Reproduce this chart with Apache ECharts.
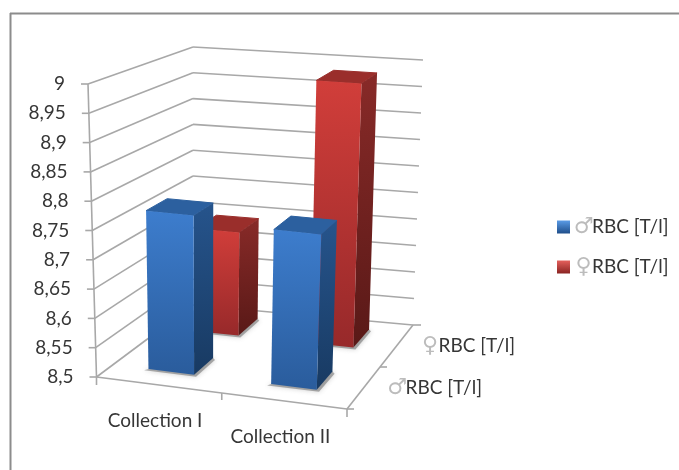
<!DOCTYPE html>
<html>
<head>
<meta charset="utf-8">
<style>html,body{margin:0;padding:0;background:#fff}#c{width:679px;height:470px}</style>
<script src="https://cdn.jsdelivr.net/npm/echarts@6/dist/echarts.min.js"></script>
</head>
<body>
<div id="c"></div>
<script>
// RBC by collection and sex, drawn as a 3D column chart
const categories = ['Collection I', 'Collection II'];
const seriesNames = ['♂RBC [T/l]', '♀RBC [T/l]'];
const maleValues = [8.775, 8.765];
const femaleValues = [8.69, 8.98];
const yTicks = [8.5, 8.55, 8.6, 8.65, 8.7, 8.75, 8.8, 8.85, 8.9, 8.95, 9];
const yTickLabels = ['8,5', '8,55', '8,6', '8,65', '8,7', '8,75', '8,8', '8,85', '8,9', '8,95', '9'];

// Corners of the plot box on screen: [u (width), v (depth), w (height)]
const box = {
  '000': [96.5, 377], '100': [347, 409], '110': [413, 325], '010': [193, 305],
  '001': [88, 84], '101': [359, 109], '111': [423, 60], '011': [193, 47]
};
function project(u, v, w) {
  const out = [0, 0];
  for (const k in box) {
    const f = (k[0] === '1' ? u : 1 - u) * (k[1] === '1' ? v : 1 - v) * (k[2] === '1' ? w : 1 - w);
    out[0] += f * box[k][0];
    out[1] += f * box[k][1];
  }
  return out;
}

const FONT = 'Lato, "Open Sans", sans-serif';
const TEXT = '#363636';
const LINE = '#a8a8a8';
const grad = (a, b) => new echarts.graphic.LinearGradient(0, 0, 0, 1, [
  { offset: 0, color: a }, { offset: 1, color: b }
]);
const palette = [
  { front: ['#3d7dcd', '#2a5c9c'], side: ['#26548c', '#183a62'], top: '#2c609f', legend: ['#5a9be6', '#1f4e8a'] },
  { front: ['#d13e3a', '#97292a'], side: ['#882a28', '#591917'], top: '#9a2e2b', legend: ['#e4605c', '#8a2422'] }
];
const depthShift = [0.03, 0.045];

function line(a, b, width, color) {
  return {
    type: 'line',
    shape: { x1: a[0], y1: a[1], x2: b[0], y2: b[1] },
    style: { stroke: color || LINE, lineWidth: width || 1.6 }
  };
}
function poly(points, fill, extra) {
  return { type: 'polygon', shape: { points }, style: Object.assign({ fill }, extra || {}) };
}
function label(text, x, y, align) {
  return {
    type: 'text',
    style: {
      text, x, y, align: align || 'left', verticalAlign: 'middle',
      fontFamily: FONT, fontSize: 19, fill: TEXT,
      rich: {
        s: { fontFamily: '"DejaVu Sans"', fontSize: 22, fill: '#bcbcbc', width: 17, align: 'center' },
        t: { fontFamily: FONT, fontSize: 19, fill: TEXT }
      }
    }
  };
}
const richName = (n) => '{s|' + n[0] + '}{t|' + n.slice(1) + '}';

// Walls, floor, ticks and axis text
function renderFrame(params, api) {
  const cs = params.coordSys;
  const val = api.value(1);
  const w = (cs.y + cs.height - api.coord([0, val])[1]) / cs.height;
  const children = [];
  const a = project(0, 0, w), b = project(0, 1, w), c = project(1, 1, w);
  children.push(line(a, b), line(b, c));
  children.push(line(a, [a[0] - 7, a[1]]));
  children.push(label(yTickLabels[params.dataIndex], a[0] - 23, a[1], 'right'));
  if (params.dataIndex === 0) {
    const p0 = project(0, 0, 0), p1 = project(1, 0, 0), p2 = project(1, 1, 0), top = project(0, 0, 1);
    children.push(line(p0, top), line(p0, p1), line(p1, p2));
    children.push(line(p0, [p0[0], p0[1] + 8]));
    children.push(line(p1, [p1[0], p1[1] + 8]), line(p1, [p1[0] + 7, p1[1]]));
    const pm = project(0.5, 0, 0);
    children.push(line(pm, [pm[0], pm[1] + 7]));
    const dm = project(1, 0.5, 0);
    children.push(line(dm, [dm[0] + 7, dm[1]]));
    children.push(line(p2, [p2[0] + 8, p2[1]]));
    categories.forEach(function (name, i) {
      const p = project((i + 0.5) / categories.length, 0, 0);
      children.push(label(name, p[0] - 4, p[1] + 36, 'center'));
    });
    seriesNames.forEach(function (name, i) {
      const p = project(1, (i + 0.5) / seriesNames.length, 0);
      children.push(label(richName(name), p[0] + 25, p[1], 'left'));
    });
  }
  return { type: 'group', children };
}

// One column: shadow on the floor, then front, side and top faces
function renderBar(depthIndex) {
  return function (params, api) {
    const cs = params.coordSys;
    const pt = api.coord([api.value(0), api.value(1)]);
    const band = api.size([1, 0])[0] / cs.width;
    const uc = (pt[0] - cs.x) / cs.width - 0.012;
    const w = (cs.y + cs.height - pt[1]) / cs.height;
    const hw = band * 0.186, vc = (depthIndex + 0.5) / seriesNames.length + depthShift[depthIndex], hd = 0.11;
    const u0 = uc - hw, u1 = uc + hw, v0 = vc - hd, v1 = vc + hd;
    const col = palette[depthIndex];
    const shadow = poly([
      project(u0 - 0.01, v0 - 0.02, 0), project(u1 + 0.015, v0 - 0.02, 0),
      project(u1 + 0.015, v1 - 0.02, 0), project(u1, v1, 0), project(u0, v0, 0)
    ], 'rgba(110,110,110,0.55)', { shadowBlur: 5, shadowColor: 'rgba(110,110,110,0.6)' });
    return {
      type: 'group',
      children: [
        shadow,
        poly([project(u0, v0, w), project(u1, v0, w), project(u1, v1, w), project(u0, v1, w)], col.top,
          { stroke: col.top, lineWidth: 1, lineJoin: 'round' }),
        poly([project(u1, v0, 0), project(u1, v1, 0), project(u1, v1, w), project(u1, v0, w)], grad(col.side[0], col.side[1])),
        poly([project(u0, v0, 0), project(u1, v0, 0), project(u1, v0, w), project(u0, v0, w)], grad(col.front[0], col.front[1]))
      ]
    };
  };
}

const barData = (values) => values.map((v, i) => [i, v]);
const chart = echarts.init(document.getElementById('c'), null, { renderer: 'canvas' });
chart.setOption({
  animation: false,
  backgroundColor: '#fff',
  grid: { left: 96.5, top: 84, width: 250.5, height: 293, containLabel: false },
  xAxis: { type: 'category', data: categories, show: false },
  yAxis: { type: 'value', min: 8.5, max: 9, interval: 0.05, show: false },
  legend: {
    left: 552, top: 211, orient: 'vertical', itemWidth: 13, itemHeight: 13, itemGap: 18,
    icon: 'rect', data: seriesNames,
    formatter: richName,
    textStyle: {
      fontFamily: FONT, fontSize: 19, color: TEXT,
      rich: {
        s: { fontFamily: '"DejaVu Sans"', fontSize: 22, color: '#bcbcbc', width: 17, align: 'center' },
        t: { fontFamily: FONT, fontSize: 19, color: TEXT }
      }
    }
  },
  graphic: [
    { type: 'line', shape: { x1: 10, y1: 13.5, x2: 679, y2: 13.5 }, style: { stroke: '#8c8c8c', lineWidth: 2 }, silent: true },
    { type: 'line', shape: { x1: 10.5, y1: 13, x2: 10.5, y2: 470 }, style: { stroke: '#8c8c8c', lineWidth: 2 }, silent: true }
  ],
  series: [
    {
      type: 'custom', name: 'frame', z: 1, silent: true, clip: false,
      encode: { x: 0, y: 1 }, renderItem: renderFrame,
      data: yTicks.map((t) => [0, t])
    },
    {
      type: 'custom', name: seriesNames[0], z: 4, clip: false,
      encode: { x: 0, y: 1 }, renderItem: renderBar(0),
      itemStyle: { color: grad(palette[0].legend[0], palette[0].legend[1]) },
      data: barData(maleValues)
    },
    {
      type: 'custom', name: seriesNames[1], z: 3, clip: false,
      encode: { x: 0, y: 1 }, renderItem: renderBar(1),
      itemStyle: { color: grad(palette[1].legend[0], palette[1].legend[1]) },
      data: barData(femaleValues)
    }
  ]
});
</script>
</body>
</html>
